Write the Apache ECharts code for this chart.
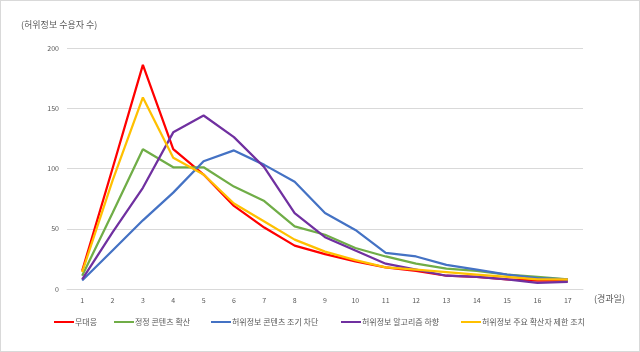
<!DOCTYPE html>
<html>
<head>
<meta charset="utf-8">
<script src="https://cdn.jsdelivr.net/npm/echarts@6/dist/echarts.min.js"></script>
<style>
  html, body { margin: 0; padding: 0; background: #fff; }
  #container { width: 638px; height: 350px; border: 1px solid #d9d9d9; }
</style>
</head>
<body>
<div id="container"></div>
<script>
  // 경과일
  var days = ['1','2','3','4','5','6','7','8','9','10','11','12','13','14','15','16','17'];
  var noAction   = [15, 100, 186, 116, 95, 69, 51, 36, 29, 23, 18, 15, 11, 10, 8, 7, 7];
  var correction = [11, 63, 116, 101, 101, 85, 73, 52, 45, 34, 27, 21, 17, 15, 12, 10, 8];
  var earlyBlock = [7, 32, 57, 80, 106, 115, 103, 89, 63, 49, 30, 27, 20, 16, 12, 9, 8];
  var algoDown   = [8, 47, 84, 130, 144, 126, 101, 63, 43, 32, 21, 16, 11, 10, 8, 5, 6];
  var spreaderCap = [14, 90, 159, 109, 95, 71, 56, 41, 31, 24, 18, 16, 14, 12, 10, 8, 8];
  var yTicks = [0, 50, 100, 150, 200];

  var names = ['무대응', '정정 콘텐츠 확산', '허위정보 콘텐츠 조기 차단', '허위정보 알고리즘 하향', '허위정보 주요 확산자 제한 조치'];
  var colors = ['#ff0000', '#70ad47', '#4472c4', '#7030a0', '#ffc000'];
  var values = [noAction, correction, earlyBlock, algoDown, spreaderCap];
  var legendLeft = [53, 113, 210, 340, 460];

  var font = '"Noto Sans CJK KR", "Noto Sans", sans-serif';
  var myChart = echarts.init(document.getElementById('container'));

  var option = {
    animation: false,
    textStyle: { fontFamily: font },
    grid: { left: 66, right: 56, top: 47, bottom: 62 },
    legend: names.map(function (n, i) {
      return {
        data: [n],
        left: legendLeft[i],
        top: 317,
        padding: 0,
        icon: 'rect',
        itemWidth: 20,
        itemHeight: 2,
        itemGap: 2,
        textStyle: { fontSize: 8, color: '#595959', fontFamily: font, padding: [0, 0, 0, -4] }
      };
    }),
    xAxis: {
      type: 'category',
      data: days,
      boundaryGap: true,
      name: '(경과일)',
      nameLocation: 'end',
      nameGap: 11,
      nameTextStyle: { fontSize: 9, color: '#595959', verticalAlign: 'top', padding: [5, 0, 0, 0] },
      axisLine: { show: true, lineStyle: { color: '#d9d9d9' } },
      axisTick: { show: false },
      axisLabel: { fontSize: 7, color: '#595959', margin: 8 }
    },
    yAxis: {
      type: 'value',
      min: yTicks[0],
      max: yTicks[yTicks.length - 1],
      interval: 50,
      name: '(허위정보 수용자 수)',
      nameLocation: 'end',
      nameGap: 19,
      nameTextStyle: { fontSize: 9, color: '#595959', align: 'left', padding: [0, 0, 0, -46] },
      axisLine: { show: false },
      axisTick: { show: false },
      splitLine: { lineStyle: { color: '#d9d9d9' } },
      axisLabel: { fontSize: 7, color: '#595959', margin: 8 }
    },
    series: names.map(function (n, i) {
      return {
        name: n,
        type: 'line',
        symbol: 'none',
        data: values[i],
        itemStyle: { color: colors[i] },
        lineStyle: { color: colors[i], width: 2.25 }
      };
    })
  };
  myChart.setOption(option);
</script>
</body>
</html>
